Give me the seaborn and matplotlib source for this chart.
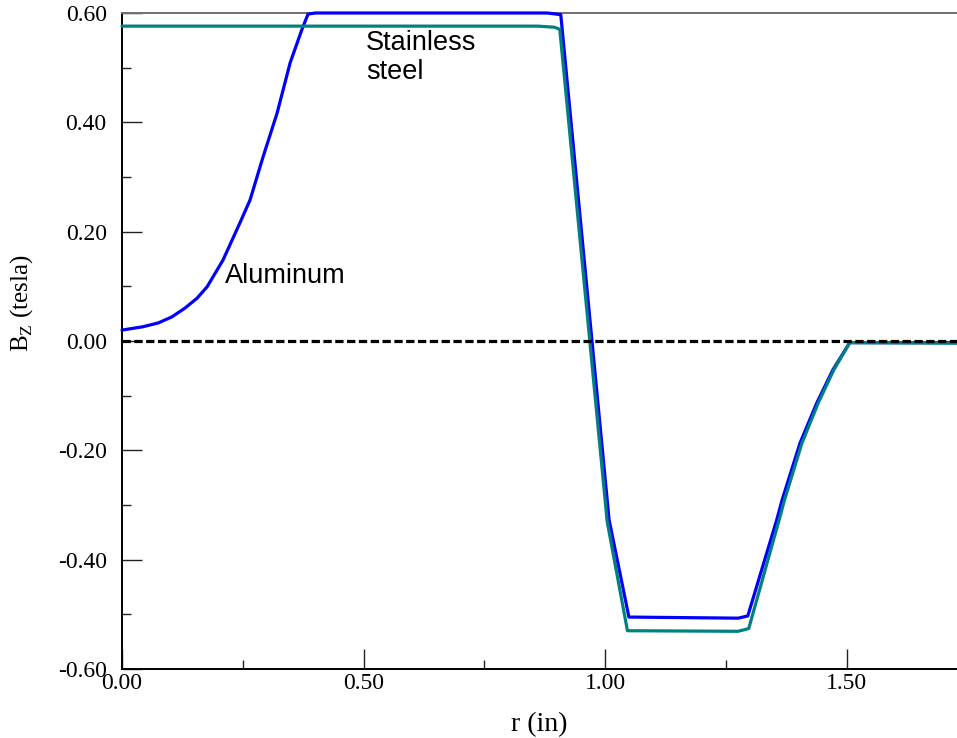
import matplotlib
matplotlib.use("Agg")
import matplotlib.pyplot as plt
from matplotlib.ticker import MultipleLocator, FuncFormatter
import seaborn as sns
import pandas as pd

# --- data ---
r_aluminum = [0.000, 0.043, 0.075, 0.103, 0.130, 0.155, 0.176, 0.209, 0.244, 0.265,
              0.292, 0.321, 0.348, 0.372, 0.385, 0.400, 0.880, 0.908, 1.008, 1.049,
              1.275, 1.295, 1.355, 1.366, 1.403, 1.438, 1.471, 1.506, 1.728]
bz_aluminum = [0.020, 0.026, 0.033, 0.044, 0.060, 0.078, 0.099, 0.148, 0.216, 0.258,
               0.337, 0.417, 0.509, 0.569, 0.598, 0.600, 0.600, 0.597, -0.327, -0.505,
               -0.507, -0.503, -0.327, -0.291, -0.187, -0.113, -0.053, -0.003, -0.003]

r_steel = [0.000, 0.860, 0.895, 0.906, 1.004, 1.046, 1.275, 1.297, 1.360, 1.371,
           1.407, 1.441, 1.473, 1.506, 1.728]
bz_steel = [0.576, 0.576, 0.574, 0.570, -0.330, -0.530, -0.531, -0.526, -0.327, -0.291,
            -0.187, -0.113, -0.053, -0.003, -0.004]

df_al = pd.DataFrame({"r": r_aluminum, "bz": bz_aluminum})
df_ss = pd.DataFrame({"r": r_steel, "bz": bz_steel})

sns.set_style("white")
plt.rcParams["font.family"] = ["Liberation Serif", "DejaVu Serif"]
plt.rcParams["text.color"] = "black"
plt.rcParams["axes.labelcolor"] = "black"
plt.rcParams["xtick.color"] = "black"
plt.rcParams["ytick.color"] = "black"

fig = plt.figure(figsize=(9.57, 7.38), dpi=100)
ax = fig.add_axes([122 / 957, (738 - 669) / 738, (957 - 122) / 957, (669 - 13) / 738])

sns.lineplot(data=df_al, x="r", y="bz", ax=ax, color="#0000FF", lw=2.3,
             sort=False, estimator=None, clip_on=False, zorder=3)
sns.lineplot(data=df_ss, x="r", y="bz", ax=ax, color="#008080", lw=2.3,
             sort=False, estimator=None, clip_on=False, zorder=3.1)
ax.axhline(0, color="black", lw=2.3, dashes=(2.6, 1.1), zorder=3.2)

ax.set_xlim(0, 1.728)
ax.set_ylim(-0.6, 0.6)

ax.xaxis.set_major_locator(MultipleLocator(0.5))
ax.xaxis.set_minor_locator(MultipleLocator(0.25))
ax.yaxis.set_major_locator(MultipleLocator(0.2))
ax.yaxis.set_minor_locator(MultipleLocator(0.1))

fmt = FuncFormatter(lambda v, p: "0.00" if abs(v) < 1e-9 else f"{v:.2f}")
ax.xaxis.set_major_formatter(fmt)
ax.yaxis.set_major_formatter(fmt)

ax.tick_params(which="both", direction="in", bottom=True, left=True, top=False,
               right=False, color="#222222", width=1.0)
ax.tick_params(which="major", length=14.5, labelsize=17, labelcolor="black")
ax.tick_params(which="minor", length=6.5)
ax.tick_params(axis="x", which="major", pad=3)
ax.tick_params(axis="y", which="major", pad=11)

for side in ["left", "bottom"]:
    ax.spines[side].set_color("black")
    ax.spines[side].set_linewidth(1.4)
ax.spines["top"].set_color("#707070")
ax.spines["top"].set_linewidth(1.4)
ax.spines["right"].set_visible(False)

ax.set_xlabel("r (in)", fontsize=20)
ax.set_ylabel(r"B$_\mathregular{Z}$ (tesla)", fontsize=18)
ax.xaxis.set_label_coords(0.5, -0.066)
ax.yaxis.set_label_coords(-0.104, 0.558)

sans = ["Liberation Sans", "DejaVu Sans"]
ax.text(0.213, 0.106, "Aluminum", fontsize=19.5, family=sans, ha="left", va="baseline")
ax.text(0.505, 0.532, "Stainless", fontsize=19.5, family=sans, ha="left", va="baseline")
ax.text(0.505, 0.479, "steel", fontsize=19.5, family=sans, ha="left", va="baseline")

fig.savefig("out.png", dpi=100)
